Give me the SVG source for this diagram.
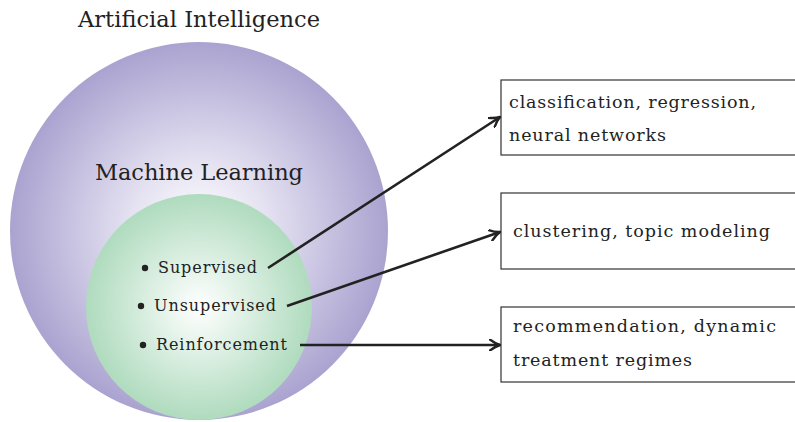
<svg xmlns="http://www.w3.org/2000/svg" width="795" height="422" viewBox="0 0 795 422">
  <defs>
    <radialGradient id="aiFill" cx="0.5" cy="0.5" r="0.5">
      <stop offset="0" stop-color="#ffffff"/>
      <stop offset="0.35" stop-color="#e6e3f2"/>
      <stop offset="1" stop-color="#aaa3d0"/>
    </radialGradient>
    <radialGradient id="mlFill" cx="0.5" cy="0.5" r="0.5">
      <stop offset="0" stop-color="#ffffff"/>
      <stop offset="1" stop-color="#afdbbe"/>
    </radialGradient>
    <marker id="arrow" viewBox="0 0 12 12" refX="11" refY="6" markerWidth="12" markerHeight="12" markerUnits="userSpaceOnUse" orient="auto">
      <path d="M1,0.5 Q6,4.5 11,6 Q6,7.5 1,11.5" fill="none" stroke="#222" stroke-width="2.4" stroke-linecap="round"/>
    </marker>
    <style>
      text { font-family: "DejaVu Serif", "Liberation Serif", serif; fill: #222; }
      .title { font-size: 22.5px; }
      .item { font-size: 16px; }
      .box rect { fill: #fff; stroke: #333; stroke-width: 1.2; }
      .box text { font-size: 17.5px; }
      .edge { fill: none; stroke: #222; stroke-width: 2.6; marker-end: url(#arrow); }
    </style>
  </defs>

  <g id="ai">
    <circle cx="199" cy="231" r="189" fill="url(#aiFill)"/>
    <text class="title" x="78" y="27" textLength="242" lengthAdjust="spacing">Artificial Intelligence</text>
  </g>

  <g id="ml">
    <circle cx="199" cy="307" r="113" fill="url(#mlFill)"/>
    <text class="title" x="95" y="180" textLength="208" lengthAdjust="spacing">Machine Learning</text>
  </g>

  <g id="supervised">
    <circle cx="145" cy="268" r="3.2" fill="#222"/>
    <text class="item" x="158" y="273" textLength="99" lengthAdjust="spacing">Supervised</text>
  </g>
  <g id="unsupervised">
    <circle cx="141" cy="306" r="3.2" fill="#222"/>
    <text class="item" x="154" y="311" textLength="122" lengthAdjust="spacing">Unsupervised</text>
  </g>
  <g id="reinforcement">
    <circle cx="143" cy="345" r="3.2" fill="#222"/>
    <text class="item" x="156" y="350" textLength="131" lengthAdjust="spacing">Reinforcement</text>
  </g>

  <g id="box-supervised" class="box">
    <rect x="501" y="80" width="300" height="75"/>
    <text x="509" y="108" textLength="247" lengthAdjust="spacing">classification, regression,</text>
    <text x="509" y="141" textLength="157" lengthAdjust="spacing">neural networks</text>
  </g>
  <g id="box-unsupervised" class="box">
    <rect x="501" y="193" width="300" height="76"/>
    <text x="513" y="237" textLength="257" lengthAdjust="spacing">clustering, topic modeling</text>
  </g>
  <g id="box-reinforcement" class="box">
    <rect x="501" y="307" width="300" height="75"/>
    <text x="513" y="332" textLength="263" lengthAdjust="spacing">recommendation, dynamic</text>
    <text x="513" y="366" textLength="179" lengthAdjust="spacing">treatment regimes</text>
  </g>

  <g id="connectors">
    <path class="edge" d="M268,268 L500,117"/>
    <path class="edge" d="M287,306 L500,232"/>
    <path class="edge" d="M300,345 L500,345"/>
  </g>
</svg>
